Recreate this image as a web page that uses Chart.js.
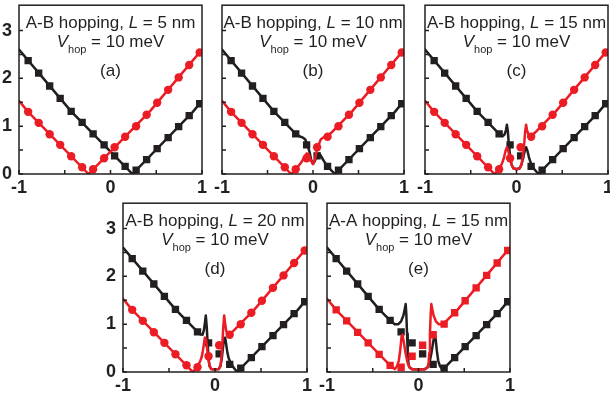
<!DOCTYPE html>
<html>
<head>
<meta charset="utf-8">
<script src="https://cdn.jsdelivr.net/npm/chart.js@4.4.0/dist/chart.umd.min.js"></script>
<style>
html, body { margin: 0; padding: 0; background: #fff; }
body { width: 610px; height: 401px; position: relative; overflow: hidden; }
canvas { position: absolute; }
</style>
</head>
<body>
<canvas id="pa"></canvas>
<canvas id="pb"></canvas>
<canvas id="pc"></canvas>
<canvas id="pd"></canvas>
<canvas id="pe"></canvas>
<script>
// ---------- data ----------
const hopType = ['A-B', 'A-B', 'A-B', 'A-B', 'A-A'];
const lengthNm = [5, 10, 15, 20, 15];
const tags = ['(a)', '(b)', '(c)', '(d)', '(e)'];
const vHop = 10;

// markers (same positions in every panel)
const markerX    = [-0.9, -0.785, -0.665, -0.55, -0.43, -0.31, -0.19, -0.07, 0.045, 0.16, 0.28, 0.395, 0.51, 0.63, 0.745, 0.86, 0.975];
const blackMarkY = [2.37, 2.11, 1.84, 1.58, 1.31, 1.08, 0.84, 0.61, 0.38, 0.16, 0.08, 0.30, 0.53, 0.76, 0.99, 1.22, 1.47];
const redMarkY   = [1.30, 1.07, 0.83, 0.61, 0.37, 0.14, 0.10, 0.33, 0.56, 0.78, 1.00, 1.24, 1.49, 1.76, 2.02, 2.28, 2.54];

// curves [x, y]
const blackA = [[-1,2.6],[-0.43,1.31],[0,0.47],[0.24,0],[0.9,1.3],[1,1.53]];
const redA   = [[-1,1.53],[-0.9,1.3],[-0.24,0],[0,0.47],[0.43,1.31],[1,2.6]];

const blackB = [[-1,2.6],[-0.43,1.31],[-0.2,0.86],[-0.15,0.79],[-0.11,0.76],[-0.085,0.72],[-0.06,0.6],[-0.04,0.48],
  [-0.02,0.3],[0,0.21],[0.02,0.27],[0.05,0.42],[0.07,0.43],[0.095,0.35],[0.13,0.24],[0.17,0.14],[0.24,0],[0.9,1.3],[1,1.53]];
const redB   = [[-1,1.53],[-0.9,1.3],[-0.24,0],[-0.17,0.14],[-0.13,0.24],[-0.095,0.35],[-0.07,0.43],[-0.05,0.42],
  [-0.02,0.27],[0,0.21],[0.02,0.3],[0.04,0.48],[0.06,0.6],[0.085,0.72],[0.11,0.76],[0.15,0.79],[0.2,0.86],[0.43,1.31],[1,2.6]];

const blackC = [[-1,2.6],[-0.43,1.31],[-0.2,0.86],[-0.15,0.79],[-0.13,0.83],[-0.115,0.92],[-0.105,1.03],[-0.095,0.9],
  [-0.085,0.65],[-0.07,0.38],[-0.055,0.2],[-0.035,0.12],[0,0.1],[0.035,0.12],[0.055,0.2],[0.075,0.36],[0.095,0.52],
  [0.105,0.56],[0.12,0.48],[0.14,0.32],[0.16,0.21],[0.19,0.11],[0.24,0],[0.9,1.3],[1,1.53]];
const redC   = [[-1,1.53],[-0.9,1.3],[-0.24,0],[-0.19,0.11],[-0.16,0.21],[-0.14,0.32],[-0.12,0.48],[-0.105,0.56],
  [-0.095,0.52],[-0.075,0.36],[-0.055,0.2],[-0.035,0.12],[0,0.1],[0.035,0.12],[0.055,0.2],[0.07,0.38],[0.085,0.65],
  [0.095,0.9],[0.105,1.03],[0.115,0.92],[0.13,0.83],[0.15,0.79],[0.2,0.86],[0.43,1.31],[1,2.6]];

const blackD = [[-1,2.6],[-0.43,1.31],[-0.2,0.86],[-0.16,0.79],[-0.135,0.78],[-0.12,0.88],[-0.11,1.02],[-0.1,1.18],
  [-0.09,0.95],[-0.08,0.6],[-0.07,0.3],[-0.06,0.13],[-0.04,0.06],[0,0.05],[0.04,0.06],[0.06,0.13],[0.075,0.3],
  [0.09,0.56],[0.1,0.7],[0.11,0.72],[0.12,0.6],[0.135,0.4],[0.15,0.28],[0.17,0.19],[0.2,0.1],[0.24,0],[0.9,1.3],[1,1.53]];
const redD   = [[-1,1.53],[-0.9,1.3],[-0.24,0],[-0.2,0.1],[-0.17,0.19],[-0.15,0.28],[-0.135,0.4],[-0.12,0.6],
  [-0.11,0.72],[-0.1,0.7],[-0.09,0.56],[-0.075,0.3],[-0.06,0.13],[-0.04,0.06],[0,0.05],[0.04,0.06],[0.06,0.13],
  [0.07,0.3],[0.08,0.6],[0.09,0.95],[0.1,1.18],[0.11,1.02],[0.12,0.88],[0.135,0.78],[0.16,0.79],[0.2,0.86],[0.43,1.31],[1,2.6]];

const blackE = [[-1,2.6],[-0.43,1.31],[-0.3,1.06],[-0.26,1.0],[-0.22,1.0],[-0.19,1.06],[-0.165,1.18],[-0.15,1.32],
  [-0.14,1.42],[-0.133,1.2],[-0.125,0.8],[-0.118,0.4],[-0.11,0.18],[-0.1,0.1],[-0.07,0.06],[0,0.05],[0.07,0.06],
  [0.1,0.1],[0.12,0.2],[0.14,0.38],[0.16,0.62],[0.175,0.78],[0.185,0.74],[0.2,0.45],[0.215,0.24],[0.235,0.12],
  [0.26,0.06],[0.3,0.12],[0.9,1.3],[1,1.53]];
const redE   = [[-1,1.53],[-0.9,1.3],[-0.3,0.12],[-0.26,0.06],[-0.235,0.12],[-0.215,0.24],[-0.2,0.45],[-0.185,0.74],
  [-0.175,0.78],[-0.16,0.62],[-0.14,0.38],[-0.12,0.2],[-0.1,0.1],[-0.07,0.06],[0,0.05],[0.07,0.06],[0.1,0.1],
  [0.11,0.18],[0.118,0.4],[0.125,0.8],[0.133,1.2],[0.14,1.42],[0.15,1.32],[0.165,1.18],[0.19,1.06],[0.22,1.0],
  [0.26,1.0],[0.3,1.06],[0.43,1.31],[1,2.6]];

// ---------- style ----------
const INK = '#231f20';
const RED = '#ec1c24';
const FONT = '"Liberation Sans", Arial, Helvetica, sans-serif';

function pts(list) { return list.map(p => ({ x: p[0], y: p[1] })); }
function markPts(ys) { return markerX.map((x, i) => ({ x: x, y: ys[i] })); }

function drawRuns(ctx, runs, cx, base) {
  let total = 0;
  runs.forEach(r => { ctx.font = r.font; r.w = ctx.measureText(r.text).width; total += r.w; });
  let xx = cx - total / 2;
  runs.forEach(r => { ctx.font = r.font; ctx.fillText(r.text, xx, base + (r.dy || 0)); xx += r.w; });
}

const deco = {
  id: 'deco',
  afterDraw(chart, args, o) {
    const { ctx, chartArea: a } = chart;
    const sx = chart.scales.x, sy = chart.scales.y;
    ctx.save();
    ctx.strokeStyle = INK;
    ctx.lineWidth = 1.5;
    ctx.strokeRect(a.left, a.top, a.right - a.left, a.bottom - a.top);
    ctx.beginPath();
    sx.ticks.forEach(t => {
      if (Math.abs(t.value * 2 - Math.round(t.value * 2)) > 1e-6) return;
      const px = sx.getPixelForValue(t.value);
      ctx.moveTo(px, a.bottom); ctx.lineTo(px, a.bottom - 4);
    });
    sy.ticks.forEach(t => {
      if (Math.abs(t.value * 2 - Math.round(t.value * 2)) > 1e-6) return;
      const py = sy.getPixelForValue(t.value);
      ctx.moveTo(a.left, py); ctx.lineTo(a.left + 4, py);
    });
    ctx.stroke();

    ctx.fillStyle = INK;
    ctx.textBaseline = 'alphabetic';
    const cx = (a.left + a.right) / 2;
    const big = '17px ' + FONT, bigI = 'italic 17px ' + FONT, small = '11px ' + FONT;
    drawRuns(ctx, [
      { text: o.hop + ' hopping, ', font: big },
      { text: 'L', font: bigI },
      { text: ' = ' + o.len + ' nm', font: big }
    ], cx, a.top + 23);
    drawRuns(ctx, [
      { text: 'V', font: bigI },
      { text: 'hop', font: small, dy: 6 },
      { text: ' = ' + vHop + ' meV', font: big }
    ], cx, a.top + 42);
    drawRuns(ctx, [{ text: o.tag, font: big }], cx, a.top + 71);
    ctx.restore();
  }
};

function panel(id, box, i, showY, black, red, redShape) {
  const cv = document.getElementById(id);
  cv.width = (box.r - box.l) + 30 + 14;
  cv.height = (box.b - box.t) + 3 + 30;
  cv.style.left = (box.l - 30) + 'px';
  cv.style.top = (box.t - 3) + 'px';

  const tickFont = { family: FONT, size: 18, weight: 'bold' };

  new Chart(cv, {
    type: 'scatter',
    data: {
      datasets: [
        { data: markPts(redMarkY), showLine: false, pointStyle: redShape,
          pointRadius: redShape === 'rect' ? 5.2 : 4.2, backgroundColor: RED, borderColor: RED, borderWidth: 0 },
        { data: pts(red), showLine: true, borderColor: RED, borderWidth: 2.5, pointRadius: 0,
          borderJoinStyle: 'round', borderCapStyle: 'round' },
        { data: markPts(blackMarkY), showLine: false, pointStyle: 'rect',
          pointRadius: 5.2, backgroundColor: INK, borderColor: INK, borderWidth: 0 },
        { data: pts(black), showLine: true, borderColor: INK, borderWidth: 2.5, pointRadius: 0,
          borderJoinStyle: 'round', borderCapStyle: 'round' }
      ]
    },
    options: {
      responsive: false,
      animation: false,
      layout: { padding: { left: 0, right: 14, top: 3, bottom: 0 } },
      plugins: {
        legend: { display: false },
        tooltip: { enabled: false },
        deco: { hop: hopType[i], len: lengthNm[i], tag: tags[i] }
      },
      scales: {
        x: {
          type: 'linear', min: -1, max: 1,
          grid: { display: false, drawTicks: false },
          border: { display: false },
          ticks: {
            stepSize: 0.5, autoSkip: false, maxRotation: 0, padding: 3,
            color: INK, font: tickFont,
            callback: v => Number.isInteger(v) ? String(v) : ''
          },
          afterFit(s) { s.height = 30; s.paddingLeft = 0; s.paddingRight = 0; }
        },
        y: {
          type: 'linear', min: 0, max: 3.53,
          grid: { display: false, drawTicks: false },
          border: { display: false },
          ticks: {
            display: showY, stepSize: 0.5, autoSkip: false, padding: 7,
            color: INK, font: tickFont,
            callback: v => Number.isInteger(v) ? String(v) : ''
          },
          afterFit(s) { s.width = 30; s.paddingTop = 0; s.paddingBottom = 0; }
        }
      }
    },
    plugins: [deco]
  });
}

panel('pa', { l: 19,  r: 202, t: 3,   b: 174 }, 0, true,  blackA, redA, 'circle');
panel('pb', { l: 222, r: 404, t: 3,   b: 174 }, 1, false, blackB, redB, 'circle');
panel('pc', { l: 425, r: 608, t: 3,   b: 174 }, 2, false, blackC, redC, 'circle');
panel('pd', { l: 123, r: 307, t: 201, b: 372 }, 3, true,  blackD, redD, 'circle');
panel('pe', { l: 327, r: 510, t: 201, b: 372 }, 4, false, blackE, redE, 'rect');
</script>
</body>
</html>
